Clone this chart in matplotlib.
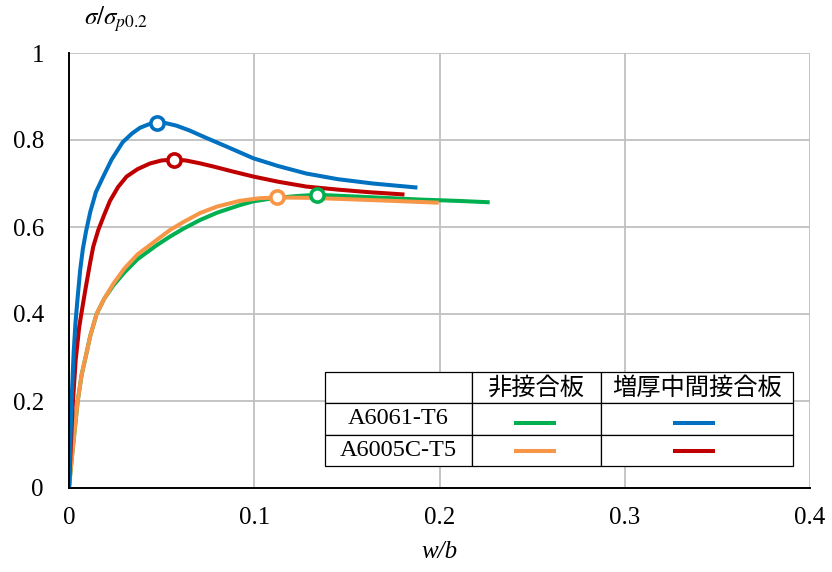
import numpy as np
import matplotlib
matplotlib.use('Agg')
import matplotlib.pyplot as plt

plt.rcParams['font.family'] = ['Liberation Serif', 'Noto Sans CJK JP']
plt.rcParams['mathtext.fontset'] = 'stix'

# A6061-T6, 増厚中間接合板 (blue)
x_blue = [0, 0.0008, 0.0016, 0.0025, 0.0035, 0.0045, 0.006, 0.0075, 0.0092, 0.0115, 0.0145,
          0.0185, 0.023, 0.029, 0.034, 0.0383, 0.043, 0.0473, 0.052, 0.058, 0.065, 0.074,
          0.085, 0.0995, 0.113, 0.128, 0.145, 0.164, 0.187]
y_blue = [0, 0.12, 0.22, 0.31, 0.38, 0.43, 0.50, 0.55, 0.59, 0.635, 0.68,
          0.716, 0.755, 0.795, 0.815, 0.828, 0.836, 0.84, 0.839, 0.833, 0.822, 0.805,
          0.785, 0.758, 0.74, 0.723, 0.71, 0.70, 0.691]
peak_blue = (0.0473, 0.84)

# A6005C-T5, 増厚中間接合板 (red)
x_red = [0, 0.001, 0.002, 0.0036, 0.0055, 0.0068, 0.009, 0.0115, 0.0131, 0.0158, 0.019,
         0.0221, 0.0265, 0.0311, 0.037, 0.0437, 0.050, 0.0567, 0.063, 0.070, 0.078, 0.088,
         0.0995, 0.113, 0.128, 0.145, 0.162, 0.180]
y_red = [0, 0.10, 0.19, 0.294, 0.37, 0.404, 0.46, 0.52, 0.555, 0.593, 0.628,
         0.66, 0.692, 0.716, 0.733, 0.746, 0.753, 0.755, 0.753, 0.747, 0.739, 0.728,
         0.716, 0.704, 0.693, 0.686, 0.68, 0.675]
peak_red = (0.0567, 0.755)

# A6005C-T5, 非接合板 (orange)
x_orange = [0, 0.0014, 0.003, 0.0047, 0.0068, 0.0086, 0.0115, 0.0149, 0.019, 0.024, 0.030,
            0.037, 0.0473, 0.0545, 0.062, 0.0707, 0.080, 0.092, 0.1025, 0.1125, 0.130,
            0.150, 0.175, 0.1985]
y_orange = [0, 0.064, 0.13, 0.20, 0.26, 0.294, 0.35, 0.40, 0.435, 0.47, 0.505,
            0.537, 0.57, 0.593, 0.612, 0.632, 0.647, 0.66, 0.666, 0.668, 0.667,
            0.664, 0.66, 0.656]
peak_orange = (0.1125, 0.668)

# A6061-T6, 非接合板 (green)
x_green = [0, 0.0014, 0.003, 0.0047, 0.0068, 0.0086, 0.0115, 0.0149, 0.019, 0.024, 0.030,
           0.037, 0.0473, 0.0545, 0.0617, 0.0707, 0.080, 0.092, 0.0995, 0.110, 0.1225,
           0.1337, 0.150, 0.170, 0.190, 0.210, 0.226]
y_green = [0, 0.064, 0.13, 0.20, 0.26, 0.294, 0.35, 0.40, 0.435, 0.466, 0.496,
           0.526, 0.558, 0.578, 0.596, 0.616, 0.633, 0.65, 0.659, 0.666, 0.671,
           0.674, 0.671, 0.667, 0.663, 0.66, 0.657]
peak_green = (0.1337, 0.674)

col_labels = ['', '非接合板', '増厚中間接合板']
row_labels = ['A6061-T6', 'A6005C-T5']

c_blue = '#0070C0'
c_red = '#C00000'
c_orange = '#F79646'
c_green = '#00B050'

fig = plt.figure(figsize=(8.32, 5.72), dpi=100)
ax = fig.add_axes([69/832, 84/572, 741/832, 435/572])

series = [(x_green, y_green, peak_green, c_green),
          (x_orange, y_orange, peak_orange, c_orange),
          (x_red, y_red, peak_red, c_red),
          (x_blue, y_blue, peak_blue, c_blue)]
for xs, ys, pk, c in series:
    ax.plot(xs, ys, color=c, lw=2.9, solid_joinstyle='round', zorder=3)
for xs, ys, pk, c in series:
    ax.plot(pk[0], pk[1], 'o', ms=9.5, mfc='white', mec=c, mew=2.6, zorder=4)

ax.set_xlim(0, 0.4)
ax.set_ylim(0, 1)
ax.set_xticks([0, 0.1, 0.2, 0.3, 0.4])
ax.set_xticklabels(['0', '0.1', '0.2', '0.3', '0.4'])
ax.set_yticks([0, 0.2, 0.4, 0.6, 0.8, 1])
ax.set_yticklabels(['0', '0.2', '0.4', '0.6', '0.8', '1'])
ax.tick_params(length=0, labelsize=18)
ax.tick_params(axis='x', pad=14)
ax.tick_params(axis='y', pad=18)
ax.grid(True, color='#c0c0c0', lw=1.3)
ax.set_axisbelow(True)
for s in ['top', 'right']:
    ax.spines[s].set_visible(False)
ax.spines['left'].set_linewidth(1.4)
ax.spines['bottom'].set_linewidth(1.4)
ax.spines['left'].set_zorder(5)
ax.spines['bottom'].set_zorder(5)

ax.set_xlabel('w/b', fontstyle='italic', fontsize=18, labelpad=8)
fig.text(84/832, 1 - 19/572, r'$\sigma/\sigma_{p0.2}$', fontsize=18, va='center', ha='left')

# legend table
cells = [col_labels, [row_labels[0], '', ''], [row_labels[1], '', '']]
tb = ax.table(cellText=cells, cellLoc='center',
              colWidths=[147, 129, 192],
              bbox=[(325-69)/741, (488-466)/435, (793-325)/741, (466-372)/435])
tb.auto_set_font_size(False)
tb.set_zorder(6)
for (r, c), cell in tb.get_celld().items():
    cell.set_facecolor('white')
    cell.set_edgecolor('black')
    cell.set_linewidth(0.9)
    txt = cell.get_text()
    if r == 0:
        txt.set_fontfamily(['Noto Sans CJK JP'])
        txt.set_fontsize(17.5)
    else:
        txt.set_fontsize(17.5)

def px(x, y):
    return ((x - 69) / 741, (488 - y) / 435)

leg_lines = [((514, 556), 423, c_green), ((673, 715), 423, c_blue),
             ((514, 556), 451, c_orange), ((673, 715), 451, c_red)]
for (x0, x1), yy, c in leg_lines:
    a = px(x0, yy)
    b = px(x1, yy)
    ax.plot([a[0], b[0]], [a[1], b[1]], color=c, lw=2.9, transform=ax.transAxes,
            zorder=7, solid_capstyle='butt', clip_on=False)

fig.savefig('out.png', dpi=100)
